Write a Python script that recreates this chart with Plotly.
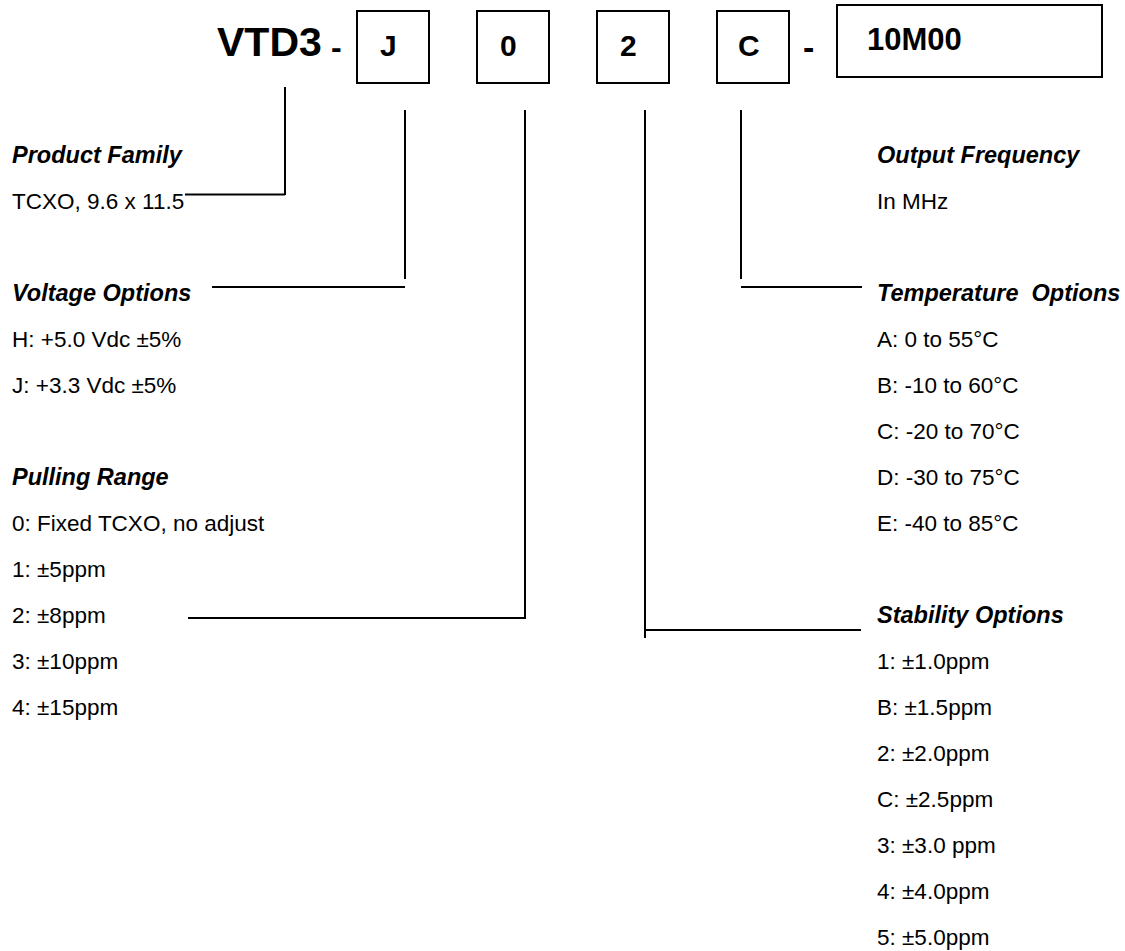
import plotly.graph_objects as go

# ---------------- data ----------------
family_code = "VTD3"
code_letters = ["J", "0", "2", "C"]
freq_code = "10M00"

product_title = "Product Family"
product_items = ["TCXO, 9.6 x 11.5"]
voltage_title = "Voltage Options"
voltage_items = ["H: +5.0 Vdc ±5%", "J: +3.3 Vdc ±5%"]
pulling_title = "Pulling Range"
pulling_items = ["0: Fixed TCXO, no adjust", "1: ±5ppm", "2: ±8ppm", "3: ±10ppm", "4: ±15ppm"]

freq_title = "Output Frequency"
freq_items = ["In MHz"]
temp_title = "Temperature\u00a0 Options"
temp_items = ["A: 0 to 55°C", "B: -10 to 60°C", "C: -20 to 70°C", "D: -30 to 75°C", "E: -40 to 85°C"]
stab_title = "Stability Options"
stab_items = ["1: ±1.0ppm", "B: ±1.5ppm", "2: ±2.0ppm", "C: ±2.5ppm", "3: ±3.0 ppm", "4: ±4.0ppm", "5: ±5.0ppm"]

# ---------------- layout constants ----------------
W, H = 1125, 951
FONT = "Liberation Sans, Arial, sans-serif"
LW = 2
ROW0, ROWH = 155, 46.0
LEFT_X, RIGHT_X = 11, 876
BOX_LEFTS = [357, 477, 597, 717]
BOX_W = 72
BOX_TOP, BOX_BOT = 11, 83

fig = go.Figure()
fig.update_layout(
    width=W, height=H, margin=dict(l=0, r=0, t=0, b=0),
    paper_bgcolor="white", plot_bgcolor="white", showlegend=False,
    xaxis=dict(range=[0, W], visible=False, fixedrange=True),
    yaxis=dict(range=[H, 0], visible=False, fixedrange=True),
)


def line(x0, y0, x1, y1):
    fig.add_shape(type="line", x0=x0, y0=y0, x1=x1, y1=y1, xref="x", yref="y",
                  line=dict(color="black", width=LW))


def text(x, y, s, size, bold=False, italic=False, anchor="left"):
    fig.add_annotation(x=x, y=y, xref="x", yref="y", text=s, showarrow=False,
                       xanchor=anchor, yanchor="middle", borderpad=0,
                       font=dict(family=FONT, size=size, color="black",
                                 weight="bold" if bold else "normal",
                                 style="italic" if italic else "normal"))


# header
text(216, 42, family_code, 41, bold=True)
text(336, 47, "-", 32, bold=True, anchor="center")
for left, letter in zip(BOX_LEFTS, code_letters):
    fig.add_shape(type="rect", x0=left, x1=left + BOX_W, y0=BOX_TOP, y1=BOX_BOT,
                  xref="x", yref="y", line=dict(color="black", width=LW))
    text(left + BOX_W / 2 - 4.5, 45, letter, 30, bold=True, anchor="center")
text(808, 47, "-", 34, bold=True, anchor="center")
fig.add_shape(type="rect", x0=837, x1=1102, y0=5, y1=77, xref="x", yref="y",
              line=dict(color="black", width=LW))
text(866, 39, freq_code, 31, bold=True)


def section(x, row, title, items):
    text(x, ROW0 + ROWH * row, title, 23.5, bold=True, italic=True)
    for i, it in enumerate(items):
        text(x, ROW0 + ROWH * (row + 1 + i), it, 22.5)


section(LEFT_X, 0, product_title, product_items)
section(LEFT_X, 3, voltage_title, voltage_items)
section(LEFT_X, 7, pulling_title, pulling_items)
section(RIGHT_X, 0, freq_title, freq_items)
section(RIGHT_X, 3, temp_title, temp_items)
section(RIGHT_X, 10, stab_title, stab_items)

# connectors
line(285, 87, 285, 195)
line(185, 194.5, 285, 194.5)

cx = [l + BOX_W / 2 for l in BOX_LEFTS]
jx, zx, tx, cxx = cx[0] + 12, cx[1] + 12, cx[2] + 12, cx[3] - 12
line(jx, 110, jx, 279)
line(212, 287, jx, 287)
line(zx, 110, zx, 619)
line(188, 618, zx, 618)
line(tx, 110, tx, 638)
line(tx, 630, 861, 630)
line(cxx, 110, cxx, 279)
line(cxx, 287, 862, 287)

fig.write_html(
    "out.html",
    config={"displayModeBar": False, "staticPlot": True},
    post_script="document.body.style.margin='0px';document.body.style.overflow='hidden';",
)
